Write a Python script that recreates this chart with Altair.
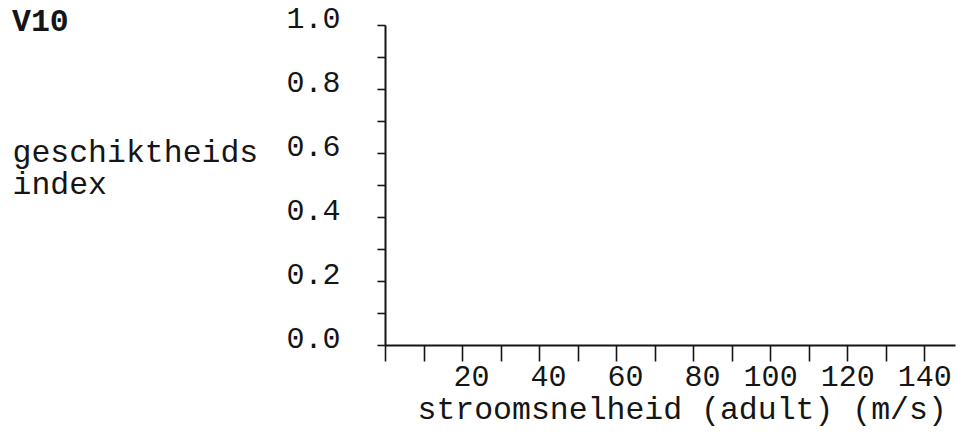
import altair as alt
import pandas as pd

# ---- data (the plot area is empty: no curve drawn) ----
chart_title = "V10"
x_title = "stroomsnelheid (adult) (m/s)"
y_title = ["geschiktheids", "index"]
x_ticks = [0, 10, 20, 30, 40, 50, 60, 70, 80, 90, 100, 110, 120, 130, 140]
x_labelled = [20, 40, 60, 80, 100, 120, 140]
y_ticks = [0.0, 0.1, 0.2, 0.3, 0.4, 0.5, 0.6, 0.7, 0.8, 0.9, 1.0]
y_labelled = ["0.0", "0.2", "0.4", "0.6", "0.8", "1.0"]
x_domain = [0, 148]
y_domain = [0, 1]
curve_speed = []   # no data points visible in the reference
curve_index = []

df = pd.DataFrame({"stroomsnelheid": pd.Series(curve_speed, dtype=float),
                   "index": pd.Series(curve_index, dtype=float)})

FONT = "Liberation Mono"
INK = "#151515"
FS = 30
TFS = 31.5

x_lab_list = ",".join(str(v) for v in x_labelled)
y_lab_list = ",".join("'" + v + "'" for v in y_labelled)

chart = alt.Chart(df).mark_line(color=INK, strokeWidth=2).encode(
    x=alt.X(
        "stroomsnelheid:Q",
        scale=alt.Scale(domain=x_domain, nice=False, zero=False),
        axis=alt.Axis(
            values=x_ticks,
            labelExpr=f"indexof([{x_lab_list}], datum.value) >= 0 ? format(datum.value, 'd') : ''",
            labelAlign="right",
            labelOffset=27,
            labelBaseline="alphabetic",
            labelPadding=24,
            labelFlush=False,
            labelOverlap=False,
            labelFont=FONT,
            labelFontSize=FS,
            labelColor=INK,
            tickSize=16,
            tickWidth=1.6,
            tickColor=INK,
            domainWidth=2,
            domainColor=INK,
            grid=False,
            title=x_title,
            titleFont=FONT,
            titleFontSize=TFS,
            titleFontWeight="normal",
            titleColor=INK,
            titleAlign="left",
            titleAnchor="start",
            titleBaseline="alphabetic",
            titleX=32,
            titleY=73,
        ),
    ),
    y=alt.Y(
        "index:Q",
        scale=alt.Scale(domain=y_domain, nice=False, zero=False),
        axis=alt.Axis(
            values=y_ticks,
            labelExpr=f"indexof([{y_lab_list}], format(datum.value, '.1f')) >= 0 ? format(datum.value, '.1f') : ''",
            labelAlign="right",
            labelBaseline="alphabetic",
            labelOffset=2,
            labelPadding=37,
            labelFlush=False,
            labelOverlap=False,
            labelFont=FONT,
            labelFontSize=FS,
            labelColor=INK,
            tickSize=8,
            tickWidth=1.6,
            tickColor=INK,
            domainWidth=2,
            domainColor=INK,
            grid=False,
            title=y_title,
            titleFont=FONT,
            titleFontSize=TFS,
            titleFontWeight="normal",
            titleColor=INK,
            titleAngle=0,
            titleAlign="left",
            titleBaseline="alphabetic",
            titleLineHeight=32,
            titleX=-373,
            titleY=136,
        ),
    ),
).properties(
    width=570,
    height=320,
    autosize=alt.AutoSizeParams(type="none"),
    padding={"left": 385, "top": 25, "right": 2, "bottom": 90},
    title=alt.TitleParams(
        text=chart_title,
        anchor="start",
        frame="group",
        font=FONT,
        fontSize=TFS,
        fontWeight="bold",
        color=INK,
        baseline="alphabetic",
        offset=0,
        dx=-373,
        dy=59,
    ),
    background="white",
).configure_view(stroke=None)

chart.save("out.html", embed_options={"renderer": "svg", "actions": False})
